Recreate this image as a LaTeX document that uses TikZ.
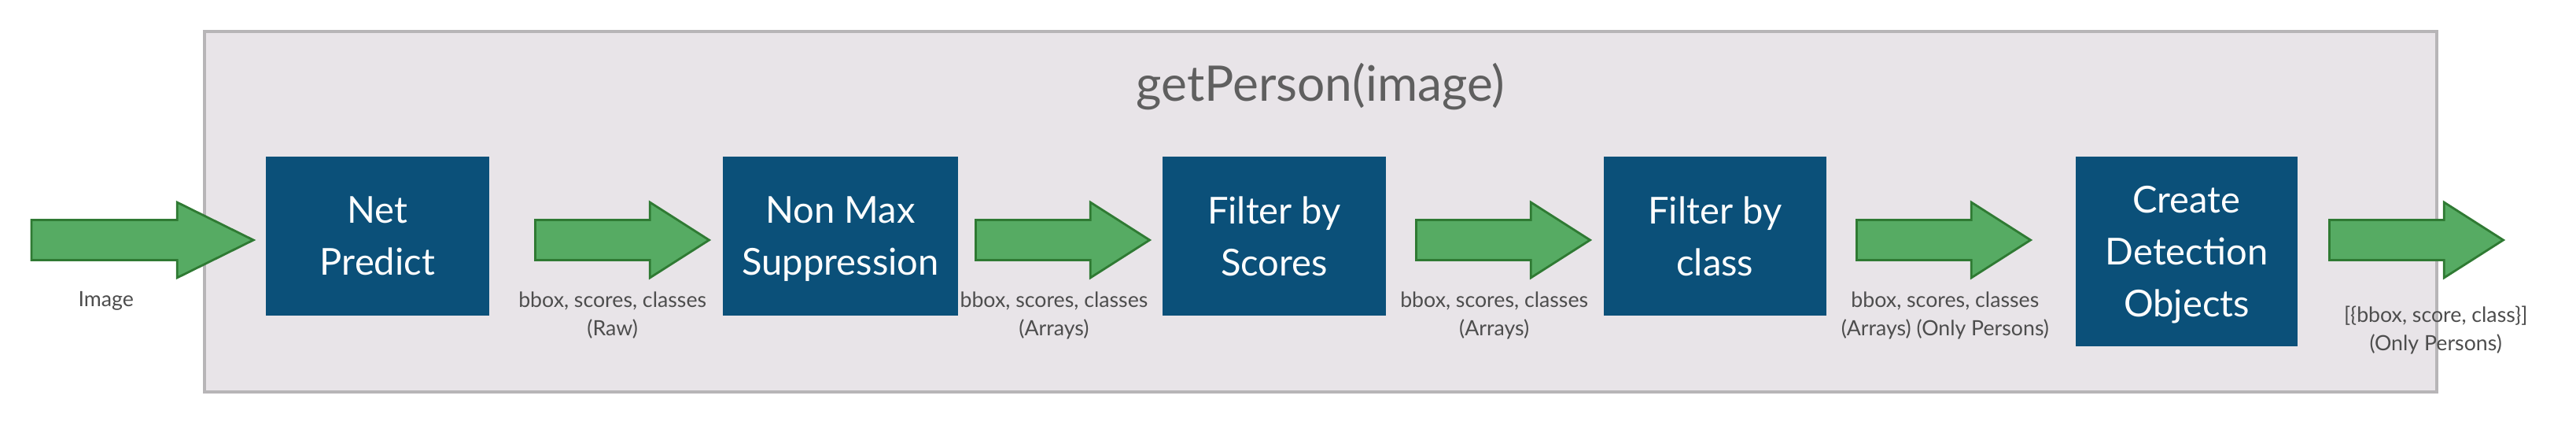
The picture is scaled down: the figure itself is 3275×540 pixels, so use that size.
\documentclass[tikz,border=0pt]{standalone}
\usepackage{fontspec}
\setmainfont{Lato}
\usetikzlibrary{shapes.arrows}

\definecolor{stageblue}{HTML}{0B5079}
\definecolor{flowgreen}{HTML}{56AB63}
\definecolor{flowedge}{HTML}{2F7A33}
\definecolor{panelfill}{HTML}{E8E4E8}
\definecolor{paneledge}{HTML}{B7B5B7}
\definecolor{titlegray}{HTML}{5F5F5F}
\definecolor{notegray}{HTML}{4D4D4D}

\tikzset{
  stage/.style={rectangle, fill=stageblue, text=white, align=center,
    inner sep=0pt, minimum width=2.83cm, minimum height=2.025cm,
    font=\fontsize{13.4}{18.7}\selectfont, text depth=-1.5pt},
  flow/.style={single arrow, draw=flowedge, fill=flowgreen, line width=0.8pt,
    inner xsep=0pt, inner ysep=0.24cm, single arrow head extend=0.225cm,
    single arrow tip angle=65, minimum height=2.21cm, anchor=tail},
  note/.style={text=notegray, align=center, inner sep=0pt, anchor=north,
    font=\fontsize{7.6}{10.25}\selectfont}
}

\begin{document}
\begin{tikzpicture}[x=0.01cm, y=-0.01cm]
  \useasboundingbox (0,0) rectangle (3275,540);

  \draw[fill=panelfill, draw=paneledge, line width=0.04cm] (260,40) rectangle (3098,498);
  \node[text=titlegray, anchor=base, inner sep=0pt,
    font=\fontsize{17.7}{20}\selectfont] (title) at (1679,129) {getPerson(image)};

  \node[stage] (predict) at (480,300) {Net\\Predict};
  \node[stage, minimum width=2.99cm] (nms) at (1068.5,300) {Non Max\\Suppression};
  \node[stage] (scores) at (1620,300) {Filter by\\Scores};
  \node[stage] (classes) at (2180.3,300) {Filter by\\class};
  \node[stage, minimum width=2.82cm, minimum height=2.41cm] (create) at (2780,319.2)
    {Create\\Detection\\Objects};

  \node[flow, minimum height=2.82cm, single arrow tip angle=52.6] (in) at (38.6,305) {};
  \node[flow] (raw) at (679,305) {};
  \node[flow] (arrays) at (1239,305) {};
  \node[flow] (scored) at (1799,305) {};
  \node[flow] (persons) at (2359,305) {};
  \node[flow] (out) at (2960,305) {};

  \node[note] (inlbl) at (134.7,370) {Image};
  \node[note] (rawlbl) at (778.7,370) {bbox, scores, classes\\(Raw)};
  \node[note] (arrayslbl) at (1340,370) {bbox, scores, classes\\(Arrays)};
  \node[note] (scoredlbl) at (1899.7,370) {bbox, scores, classes\\(Arrays)};
  \node[note] (personslbl) at (2472.9,370) {bbox, scores, classes\\(Arrays) (Only Persons)};
  \node[note] (outlbl) at (3096.7,388) {[\{bbox, score, class\}]\\(Only Persons)};
\end{tikzpicture}
\end{document}
